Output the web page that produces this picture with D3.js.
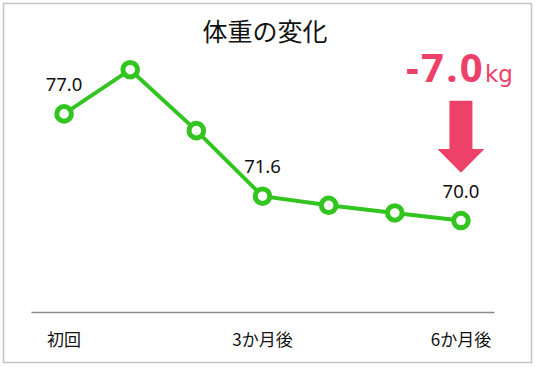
<!DOCTYPE html>
<html>
<head>
<meta charset="utf-8">
<script src="https://cdn.jsdelivr.net/npm/d3@7"></script>
<style>
  body { margin: 0; background: #fff; }
  svg { display: block; font-family: "Noto Sans", "Noto Sans CJK JP", sans-serif; }
</style>
</head>
<body>
<div id="chart"></div>
<script>
const categories = ["c0", "c1", "c2", "c3", "c4", "c5", "c6"];
const tickLabels = ["初回", "", "", "3か月後", "", "", "6か月後"];
const weights = [77.0, 79.9, 75.9, 71.6, 71.0, 70.5, 70.0];
const labelled = [0, 3, 6];
const title = "体重の変化";
const unit = "kg";

const width = 535,
  height = 367;

const green = "#32c41f",
  pink = "#ee4169";

const svg = d3
  .select("#chart")
  .append("svg")
  .attr("width", width)
  .attr("height", height);

// frame
svg
  .append("rect")
  .attr("x", 3.5)
  .attr("y", 3.5)
  .attr("width", 528)
  .attr("height", 359)
  .attr("fill", "#fff")
  .attr("stroke", "#c4c4c4")
  .attr("stroke-width", 1.5);

const data = categories.map((c, i) => ({ cat: c, value: weights[i], i }));

const xScale = d3.scaleBand().domain(categories).range([31, 494]);
const yScale = d3.scaleLinear().domain([64, 84]).range([312, 7.2]);

const xc = (d) => xScale(d.cat) + xScale.bandwidth() / 2;

// title
svg
  .append("text")
  .attr("x", 265)
  .attr("y", 41)
  .attr("text-anchor", "middle")
  .attr("font-size", 25)
  .attr("fill", "#111")
  .text(title);

// x axis
const gx = svg.append("g").attr("transform", `translate(0,${yScale(64)})`);
gx.call(
  d3
    .axisBottom(xScale)
    .tickSize(0)
    .tickPadding(22)
    .tickFormat((d, i) => tickLabels[i])
)
  .call((g) => g.select(".domain").attr("stroke", "#8a8a8a").attr("stroke-width", 1.3))
  .call((g) =>
    g
      .selectAll("text")
      .attr("font-size", 17)
      .attr("fill", "#111")
      .attr("font-family", '"Noto Sans CJK JP", sans-serif')
  );

// line
const line = d3
  .line()
  .x(xc)
  .y((d) => yScale(d.value));

svg
  .append("path")
  .datum(data)
  .attr("fill", "none")
  .attr("stroke", green)
  .attr("stroke-width", 4)
  .attr("d", line);

svg
  .selectAll("circle.pt")
  .data(data)
  .join("circle")
  .attr("class", "pt")
  .attr("cx", xc)
  .attr("cy", (d) => yScale(d.value))
  .attr("r", 7.3)
  .attr("fill", "#fff")
  .attr("stroke", green)
  .attr("stroke-width", 5);

// value labels
svg
  .selectAll("text.val")
  .data(data.filter((d) => labelled.includes(d.i)))
  .join("text")
  .attr("class", "val")
  .attr("x", xc)
  .attr("y", (d) => yScale(d.value) - 23)
  .attr("text-anchor", "middle")
  .attr("font-size", 18.5)
  .attr("fill", "#111")
  .text((d) => d3.format(".1f")(d.value));

// change annotation
const last = data[data.length - 1];
const delta = last.value - data[0].value;
const ax = xc(last);

const ann = svg
  .append("text")
  .attr("x", ax - 55)
  .attr("y", 82)
  .attr("fill", pink);
ann
  .append("tspan")
  .attr("font-size", 40)
  .attr("font-weight", "bold")
  .attr("letter-spacing", 2.3)
  .text(d3.format(".1f")(delta).replace("−", "-"));
ann
  .append("tspan")
  .attr("font-size", 23)
  .attr("font-family", '"DejaVu Sans", sans-serif')
  .text(unit);

svg
  .append("path")
  .attr("fill", pink)
  .attr(
    "d",
    d3.line()([
      [ax - 11.5, 100.7],
      [ax + 11.5, 100.7],
      [ax + 11.5, 149],
      [ax + 23.5, 149],
      [ax, 172.7],
      [ax - 23.5, 149],
      [ax - 11.5, 149],
    ]) + "Z"
  );
</script>
</body>
</html>
